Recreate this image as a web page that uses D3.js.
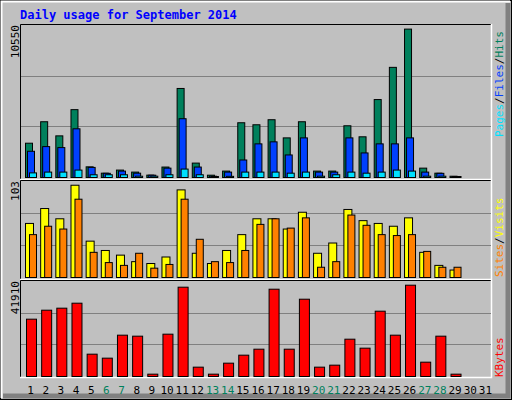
<!DOCTYPE html>
<html lang="en">
<head>
<meta charset="UTF-8">
<title>Daily usage for September 2014</title>
<style>
  body { margin: 0; padding: 0; background: #fff; }
  text { font-family: "DejaVu Sans Mono", monospace; }
</style>
</head>
<body>
<script src="https://d3js.org/d3.v7.min.js"></script>
<script>
const days = d3.range(1, 32);
const weekends = [6, 7, 13, 14, 20, 21, 27, 28];

const hits   = [2380,3870,2890,4710,740,300,515,375,165,725,6180,1000,160,445,3800,3660,4010,2750,3870,445,445,3590,2825,5410,7645,10300,650,300,90,0,0];
const files  = [1820,2145,2075,3380,700,290,445,300,160,650,4080,725,90,375,1215,2335,2475,1565,2750,375,375,2750,1705,2335,2335,2750,375,290,60,0,0];
const pages  = [320,375,375,515,190,190,190,90,90,190,585,190,60,80,375,375,375,300,375,90,190,375,300,375,515,445,90,90,30,0,0];
const visits = [58,74,63,99,39,29,24,17,15,22,94,26,15,29,46,63,63,52,70,26,37,73,61,58,55,64,27,13,8,0,0];
const sites  = [46,55,52,84,27,16,13,26,10,14,84,41,17,16,29,57,63,53,64,11,17,67,56,46,45,46,28,11,11,0,0];
const kbytes = [25290,29250,30140,32340,9850,8090,18230,17790,1030,18670,39400,4120,1030,5880,9410,12050,38510,12050,34100,4120,5000,16460,12500,28810,18230,40280,6320,17790,1030,0,0];

const maxHits = 10550, maxVisits = 103, maxKbytes = 41910;

const W = 512, H = 400;
const svg = d3.select('body').append('svg').attr('width', W).attr('height', H);

// background + bevel
svg.append('rect').attr('width', W).attr('height', H).attr('fill', '#c0c0c0');
svg.append('rect').attr('x', 0.5).attr('y', 0.5).attr('width', W - 1).attr('height', H - 1)
  .attr('fill', 'none').attr('stroke', '#000');
svg.append('path').attr('d', `M1.5,${H - 2}V1.5H${W - 2}`).attr('fill', 'none').attr('stroke', '#fff').attr('stroke-width', 2);
svg.append('path').attr('d', `M${W - 4},3V${H - 4}H3`).attr('fill', 'none').attr('stroke', '#808080').attr('stroke-width', 5);

svg.append('text').attr('x', 20).attr('y', 19).attr('fill', '#0000ff')
  .attr('font-size', 12).attr('font-weight', 'bold').text('Daily usage for September 2014');

const x = d3.scaleBand().domain(days).range([21, 491]).paddingInner(0);

const panels = [
  { top: 25, bottom: 177, max: maxHits, label: '10550' },
  { top: 181, bottom: 277, max: maxVisits, label: '103' },
  { top: 281, bottom: 376, max: maxKbytes, label: '41910' }
];

panels.forEach((p, i) => {
  const bot = i === 2 ? 378 : p.bottom + 3;
  svg.append('rect').attr('x', 20).attr('y', p.top - 1).attr('width', 472).attr('height', bot - p.top + 1)
    .attr('fill', '#c0c0c0');
  svg.append('path').attr('d', `M20.5,${bot}V${p.top - 0.5}H491`).attr('fill', 'none').attr('stroke', '#000');
  svg.append('path').attr('d', `M20,${bot - 0.5}H491.5V${p.top - 1}`).attr('fill', 'none').attr('stroke', '#fff').attr('stroke-width', 1.5);
  p.y = d3.scaleLinear().domain([0, p.max]).range([p.bottom, p.top]);
  [1 / 3, 2 / 3].forEach(f => {
    const gy = Math.round(p.bottom - (p.bottom - p.top) * f) + 0.5;
    svg.append('line').attr('x1', 21).attr('x2', 491).attr('y1', gy).attr('y2', gy)
      .attr('stroke', '#808080').attr('stroke-width', 1);
  });
  svg.append('text').attr('transform', `translate(19,${p.top}) rotate(-90)`)
    .attr('text-anchor', 'end').attr('font-size', 11).attr('fill', '#000').text(p.label);
});

function bars(data, panel, offset, width, color) {
  svg.append('g').selectAll('rect').data(data).enter()
    .filter(d => d > 0)
    .append('rect')
    .attr('x', (d, i) => x(days[data.indexOf(d) >= 0 ? i : i]) + offset + 0.5)
    .attr('y', d => Math.min(panel.y(d), panel.bottom - 1) + 0.5)
    .attr('width', width)
    .attr('height', d => Math.max(1, panel.bottom - panel.y(d)))
    .attr('fill', color).attr('stroke', '#000');
}
function drawSeries(data, panel, offset, width, color) {
  const g = svg.append('g');
  data.forEach((d, i) => {
    if (d <= 0) return;
    const yy = Math.min(panel.y(d), panel.bottom - 1);
    g.append('rect')
      .attr('x', x(days[i]) + offset + 0.5).attr('y', yy + 0.5)
      .attr('width', width).attr('height', panel.bottom - yy)
      .attr('fill', color).attr('stroke', '#000');
  });
}

drawSeries(hits, panels[0], 4, 7, '#00805c');
drawSeries(files, panels[0], 6, 7, '#0040ff');
drawSeries(pages, panels[0], 8, 7, '#00e0ff');
drawSeries(visits, panels[1], 4, 8, '#ffff00');
drawSeries(sites, panels[1], 8, 7, '#ff8000');
drawSeries(kbytes, panels[2], 5, 10, '#ff0000');

// day labels
svg.append('g').selectAll('text').data(days).enter().append('text')
  .attr('x', d => x(d) + x.bandwidth() / 2 + 2)
  .attr('y', 394).attr('text-anchor', 'middle').attr('font-size', 11)
  .attr('fill', d => weekends.includes(d) ? '#00805c' : '#000')
  .text(d => d);

// right legends
function legend(parts, yBottom) {
  const t = svg.append('text').attr('transform', `translate(503,${yBottom}) rotate(-90)`)
    .attr('font-size', 11);
  parts.forEach(([s, c]) => t.append('tspan').attr('fill', c).text(s));
}
legend([['Pages', '#00e0ff'], ['/', '#000'], ['Files', '#0040ff'], ['/', '#000'], ['Hits', '#00805c']], 137);
legend([['Sites', '#ff8000'], ['/', '#000'], ['Visits', '#ffff00']], 277);
legend([['KBytes', '#ff0000']], 377);
</script>
</body>
</html>
